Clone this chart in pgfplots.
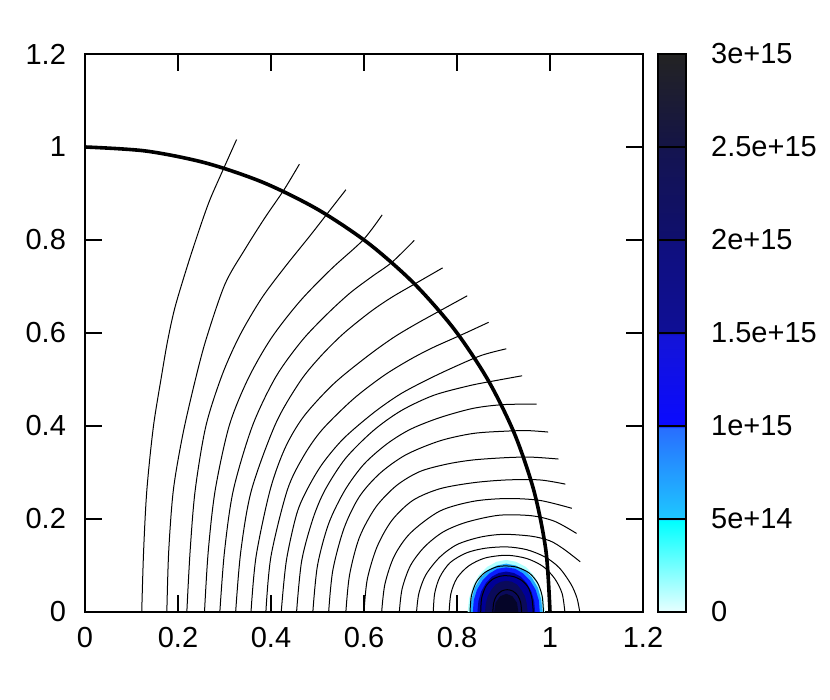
\documentclass[border=0pt]{standalone}
\usepackage{fontspec}
\setmainfont{Liberation Sans}
\usepackage{pgfplots}
\pgfplotsset{compat=1.18}

\pgfplotsset{
  colormap={gpblue}{[1pt]
    rgb255(0pt)=(232,255,255) rgb255(49pt)=(0,255,255)
    rgb255(50pt)=(30,200,255) rgb255(99pt)=(40,110,255)
    rgb255(100pt)=(10,10,255) rgb255(149pt)=(20,20,215)
    rgb255(150pt)=(15,15,150) rgb255(199pt)=(15,15,125)
    rgb255(200pt)=(15,15,110) rgb255(249pt)=(20,20,80)
    rgb255(250pt)=(20,20,70) rgb255(300pt)=(35,35,35)},
  fl/.style={black, line width=0.5pt, smooth, tension=0.5},
}

\begin{document}
\begin{tikzpicture}
\path[use as bounding box] (-42.5pt,-44pt) rectangle (372.5pt,306pt);
\begin{axis}[
  at={(0,0)}, anchor=south west,
  scale only axis, width=279pt, height=279pt,
  xmin=0, xmax=1.2, ymin=0, ymax=1.2,
  xtick={0,0.2,0.4,0.6,0.8,1,1.2},
  xticklabels={0,0.2,0.4,0.6,0.8,1,1.2},
  ytick={0,0.2,0.4,0.6,0.8,1,1.2},
  yticklabels={0,0.2,0.4,0.6,0.8,1,1.2},
  tick align=inside,
  major tick length=8.5pt,
  tick style={line width=1pt, black},
  axis line style={line width=1pt},
  tick label style={font=\fontsize{14.5}{17}\selectfont},
  /pgf/number format/assume math mode=true,
  yticklabel style={xshift=-6pt},
  xticklabel style={yshift=-4pt},
  colormap name=gpblue,
  point meta min=0, point meta max=30,
  colorbar,
  colorbar style={
    at={(parent axis.north east)}, anchor=north west, xshift=-1pt,
    width=14pt,
    ytick={0,5,10,15,20,25,30},
    yticklabels={0,5e+14,1e+15,1.5e+15,2e+15,2.5e+15,3e+15},
    ytick pos=right,
    tick align=inside,
    major tick length=14pt,
    tick style={line width=0.8pt, black},
    axis line style={line width=1pt},
    yticklabel style={font=\fontsize{14.5}{17}\selectfont, xshift=9pt},
    /pgf/number format/assume math mode=true,
  },
]
% source blob (filled bands)
\addplot[draw=none, fill={rgb,255:red,175;green,255;blue,255}] coordinates {
  (0.989,0) (0.986,0.029) (0.978,0.056) (0.965,0.079) (0.948,0.097) (0.927,0.108) (0.906,0.112)
  (0.885,0.108) (0.865,0.097) (0.847,0.079) (0.834,0.056) (0.826,0.029) (0.823,0)} --cycle;
\addplot[draw=none, fill={rgb,255:red,30;green,170;blue,255}] coordinates {
  (0.984,0) (0.981,0.027) (0.974,0.052) (0.961,0.074) (0.945,0.090) (0.926,0.100) (0.906,0.104)
  (0.886,0.100) (0.867,0.090) (0.851,0.074) (0.838,0.052) (0.831,0.027) (0.828,0)} --cycle;
\addplot[draw=none, fill={rgb,255:red,10;green,30;blue,255}] coordinates {
  (0.978,0) (0.976,0.025) (0.969,0.048) (0.957,0.068) (0.942,0.083) (0.925,0.093) (0.906,0.096)
  (0.887,0.093) (0.870,0.083) (0.855,0.068) (0.843,0.048) (0.836,0.025) (0.834,0)} --cycle;
\addplot[draw=none, fill={rgb,255:red,0;green,0;blue,150}] coordinates {
  (0.968,0) (0.966,0.023) (0.960,0.044) (0.950,0.062) (0.937,0.076) (0.922,0.084) (0.906,0.087)
  (0.890,0.084) (0.875,0.076) (0.862,0.062) (0.852,0.044) (0.846,0.023) (0.844,0)} --cycle;
\addplot[draw=none, fill={rgb,255:red,10;green,10;blue,90}] coordinates {
  (0.952,0) (0.950,0.018) (0.946,0.034) (0.938,0.048) (0.929,0.059) (0.918,0.065) (0.906,0.067)
  (0.894,0.065) (0.883,0.059) (0.874,0.048) (0.866,0.034) (0.862,0.018) (0.860,0)} --cycle;
\addplot[draw=none, fill={rgb,255:red,5;green,5;blue,40}] coordinates {
  (0.932,0) (0.929,0.020) (0.919,0.034) (0.906,0.039) (0.893,0.034) (0.883,0.020) (0.880,0)} --cycle;

% field lines
\addplot[fl] coordinates {(0.122,0) (0.126,0.13) (0.133,0.262) (0.147,0.398) (0.165,0.51) (0.178,0.585) (0.194,0.657) (0.222,0.750) (0.248,0.829) (0.268,0.885) (0.292,0.940) (0.326,1.016)};
\addplot[fl] coordinates {(0.176,0) (0.180,0.13) (0.190,0.262) (0.210,0.38) (0.235,0.49) (0.260,0.585) (0.301,0.705) (0.344,0.780) (0.387,0.848) (0.428,0.908) (0.461,0.963)};
\addplot[fl] coordinates {(0.219,0) (0.226,0.13) (0.237,0.262) (0.260,0.40) (0.295,0.51) (0.333,0.595) (0.380,0.675) (0.430,0.742) (0.483,0.808) (0.522,0.858) (0.561,0.908)};
\addplot[fl] coordinates {(0.257,0) (0.265,0.13) (0.280,0.262) (0.310,0.40) (0.350,0.50) (0.400,0.588) (0.462,0.668) (0.530,0.738) (0.598,0.800) (0.639,0.854)};
\addplot[fl] coordinates {(0.290,0) (0.300,0.13) (0.319,0.262) (0.360,0.40) (0.410,0.505) (0.466,0.583) (0.520,0.640) (0.570,0.686) (0.618,0.722) (0.660,0.752) (0.708,0.799)};
\addplot[fl] coordinates {(0.324,0) (0.335,0.13) (0.358,0.262) (0.410,0.405) (0.462,0.495) (0.505,0.548) (0.555,0.598) (0.613,0.645) (0.660,0.677) (0.717,0.710) (0.769,0.740)};
\addplot[fl] coordinates {(0.357,0) (0.368,0.12) (0.398,0.262) (0.430,0.352) (0.470,0.420) (0.534,0.490) (0.606,0.549) (0.663,0.590) (0.713,0.620) (0.771,0.652) (0.822,0.680)};
\addplot[fl] coordinates {(0.389,0) (0.400,0.12) (0.435,0.262) (0.470,0.335) (0.510,0.392) (0.577,0.458) (0.642,0.508) (0.699,0.543) (0.749,0.569) (0.814,0.598) (0.868,0.623)};
\addplot[fl] coordinates {(0.422,0) (0.433,0.11) (0.455,0.21) (0.477,0.262) (0.510,0.318) (0.556,0.373) (0.620,0.428) (0.677,0.468) (0.735,0.499) (0.792,0.526) (0.853,0.552) (0.906,0.566)};
\addplot[fl] coordinates {(0.455,0) (0.466,0.11) (0.490,0.20) (0.516,0.262) (0.560,0.33) (0.620,0.39) (0.680,0.433) (0.750,0.466) (0.828,0.487) (0.885,0.498) (0.940,0.508)};
\addplot[fl] coordinates {(0.490,0) (0.500,0.10) (0.524,0.19) (0.559,0.262) (0.600,0.318) (0.650,0.362) (0.700,0.393) (0.763,0.418) (0.835,0.438) (0.900,0.446) (0.971,0.447)};
\addplot[fl] coordinates {(0.524,0) (0.533,0.09) (0.557,0.18) (0.590,0.248) (0.634,0.298) (0.690,0.338) (0.763,0.368) (0.835,0.384) (0.907,0.389) (0.953,0.390) (0.996,0.387)};
\addplot[fl] coordinates {(0.561,0) (0.569,0.08) (0.590,0.16) (0.625,0.225) (0.670,0.272) (0.720,0.302) (0.778,0.318) (0.835,0.327) (0.907,0.332) (0.960,0.333) (1.018,0.329)};
\addplot[fl] coordinates {(0.600,0) (0.607,0.07) (0.628,0.14) (0.660,0.197) (0.705,0.240) (0.763,0.265) (0.835,0.278) (0.907,0.284) (0.978,0.284) (1.033,0.275)};
\addplot[fl] coordinates {(0.638,0) (0.645,0.06) (0.665,0.12) (0.700,0.170) (0.763,0.217) (0.835,0.238) (0.907,0.244) (0.978,0.240) (1.047,0.223)};
\addplot[fl] coordinates {(0.676,0) (0.682,0.05) (0.700,0.10) (0.730,0.140) (0.770,0.172) (0.820,0.193) (0.890,0.208) (0.960,0.207) (1.010,0.195) (1.057,0.169)};
\addplot[fl] coordinates {(0.713,0) (0.718,0.04) (0.733,0.08) (0.763,0.118) (0.800,0.145) (0.850,0.161) (0.900,0.167) (0.960,0.163) (1.000,0.153) (1.030,0.135) (1.065,0.108)};
\addplot[fl] coordinates {(0.749,0) (0.752,0.04) (0.763,0.075) (0.785,0.106) (0.820,0.127) (0.860,0.137) (0.907,0.140) (0.950,0.134) (0.990,0.118) (1.020,0.095) (1.045,0.060) (1.058,0.030) (1.064,0)};
\addplot[fl] coordinates {(0.783,0) (0.787,0.04) (0.800,0.073) (0.825,0.099) (0.860,0.116) (0.907,0.122) (0.950,0.115) (0.985,0.098) (1.010,0.072) (1.026,0.040) (1.032,0)};
\addplot[fl] coordinates {(0.828,0) (0.831,0.035) (0.842,0.065) (0.860,0.085) (0.885,0.097) (0.907,0.099) (0.930,0.096) (0.955,0.084) (0.973,0.063) (0.983,0.035) (0.986,0)};
\addplot[fl] coordinates {(0.851,0) (0.853,0.030) (0.862,0.055) (0.876,0.070) (0.893,0.077) (0.907,0.078) (0.922,0.076) (0.939,0.068) (0.953,0.053) (0.961,0.030) (0.964,0)};
\addplot[fl] coordinates {(0.877,0) (0.879,0.020) (0.885,0.035) (0.896,0.045) (0.908,0.048) (0.920,0.045) (0.931,0.035) (0.937,0.020) (0.939,0)};

% boundary circle r = 1
\addplot[black, line width=1.8pt, smooth] coordinates {
  (1,0) (0.9914,0.1305) (0.9659,0.2588) (0.9239,0.3827) (0.8660,0.5) (0.7934,0.6088) (0.7071,0.7071)
  (0.6088,0.7934) (0.5,0.8660) (0.3827,0.9239) (0.2588,0.9659) (0.1305,0.9914) (0,1)};
\end{axis}
\end{tikzpicture}
\end{document}
